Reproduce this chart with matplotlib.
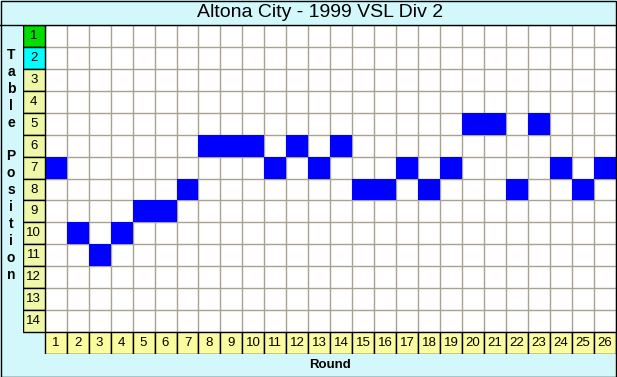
import numpy as np
import matplotlib
matplotlib.use('Agg')
import matplotlib.pyplot as plt
from matplotlib.patches import Rectangle
from matplotlib.lines import Line2D

# Data
rounds = list(range(1, 27))
positions = [7, 10, 11, 10, 9, 9, 8, 6, 6, 6, 7, 6, 7, 6, 8, 8, 7, 8, 7, 5, 5, 8, 5, 7, 8, 7]
table_rows = list(range(1, 15))
row_colors = ['#00dd00', '#00ffff'] + ['#eef8a8'] * 12
title = 'Altona City - 1999 VSL Div 2'
ylabel_text = 'Table Position'
xlabel_text = 'Round'

plt.rcParams['font.family'] = ['Liberation Sans', 'DejaVu Sans']

W, H = 617, 377
fig = plt.figure(figsize=(W / 100, H / 100), dpi=100)
fig.patch.set_facecolor('#d2f8fc')

# title bar and border
fig.add_artist(Line2D([0, 1], [1 - 24.5 / H, 1 - 24.5 / H], color='black', lw=1))
fig.add_artist(Rectangle((0.5 / W, 0.5 / H), 1 - 1.5 / W, 1 - 1.5 / H, transform=fig.transFigure,
                         fill=False, edgecolor='black', lw=1))
fig.text(320 / W, 1 - 12.5 / H, title, ha='center', va='center', fontsize=14)

# main axes: column 0 = position labels, row 15 = round labels
left, right, top, bottom = 22.7, 616.0, 24.7, 354.3
ax = fig.add_axes([left / W, 1 - bottom / H, (right - left) / W, (bottom - top) / H])
ax.set_xlim(-0.5, 26.5)
ax.set_ylim(15.5, 0.5)
ax.axis('off')

n_rounds = len(rounds)
n_rows = len(table_rows)

# white grid area
ax.add_patch(Rectangle((0.5, 0.5), n_rounds, n_rows, facecolor='white', edgecolor='none', zorder=0))
ax.vlines(np.arange(0.5, n_rounds + 1), 0.5, n_rows + 0.5, color='#aaa290', lw=1, zorder=1)
ax.hlines(np.arange(0.5, n_rows + 1), 0.5, n_rounds + 0.5, color='#aaa290', lw=1, zorder=1)

# position cells
ax.bar(rounds, 1, bottom=np.array(positions) - 0.5, width=1, color='#0000ff', zorder=2)

# label cells
ax.bar([0] * n_rows, 1, bottom=np.array(table_rows) - 0.5, width=1, color=row_colors,
       edgecolor='black', lw=1, zorder=3)
ax.bar(rounds, 1, bottom=n_rows + 0.5, width=1, color='#fbfba0', edgecolor='black', lw=1, zorder=3)
for r in table_rows:
    ax.text(0, r, str(r), ha='center', va='center', fontsize=9.5, zorder=4)
for r in rounds:
    ax.text(r, n_rows + 1, str(r), ha='center', va='center', fontsize=9.5, zorder=4)

# axis titles
fig.text(330 / W, 1 - 365 / H, xlabel_text, ha='center', va='center', fontsize=9.5, fontweight='bold')
y0, step = 55, 16.9
for i, ch in enumerate(ylabel_text):
    if ch != ' ':
        fig.text(11 / W, 1 - (y0 + i * step) / H, ch, ha='center', va='center',
                 fontsize=10, fontweight='bold')

fig.savefig('out.png', dpi=100, facecolor=fig.get_facecolor())
